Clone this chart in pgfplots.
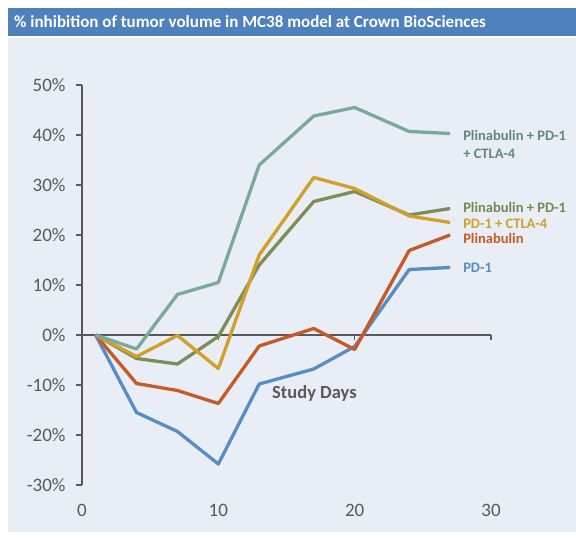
\documentclass[border=0pt]{standalone}
\usepackage{fontspec}
\setmainfont{Carlito}
\usepackage{pgfplots}
\pgfplotsset{compat=1.18}

\definecolor{panel}{RGB}{233,238,246}
\definecolor{titlebar}{RGB}{79,129,189}
\definecolor{axisgray}{RGB}{89,89,89}
\definecolor{cteal}{RGB}{120,170,155}
\definecolor{colive}{RGB}{126,141,88}
\definecolor{cgold}{RGB}{208,160,40}
\definecolor{corange}{RGB}{197,90,38}
\definecolor{cblue}{RGB}{87,141,196}

\begin{document}
\begin{tikzpicture}[x=1pt,y=1pt]
% page, panel and title bar
\fill[white] (0,0) rectangle (576,541);
\fill[panel] (8,9) rectangle (576,503);
\fill[titlebar] (8,505) rectangle (576,533);
\node[anchor=west, inner sep=0, text=white, font=\fontsize{17}{20}\selectfont\bfseries]
  at (14,519) {\% inhibition of tumor volume in MC38 model at Crown BioSciences};

\begin{axis}[
  at={(82pt,56pt)}, anchor=south west,
  scale only axis, width=409pt, height=400pt,
  xmin=0, xmax=30, ymin=-30, ymax=50,
  axis y line*=left, axis x line*=bottom,
  x axis line style={draw=none},
  y axis line style={axisgray, line width=1.3pt},
  xtick={0,10,20,30}, ytick={-30,-20,...,50},
  xtick style={draw=none},
  ytick style={axisgray, line width=1.3pt},
  tick align=outside, major tick length=6pt,
  yticklabel={\pgfmathprintnumber{\tick}\%},
  /pgf/number format/assume math mode=true,
  tick label style={font=\fontsize{19}{22}\selectfont, text=axisgray},
  xticklabel style={anchor=center, yshift=-19pt},
  yticklabel style={xshift=-7pt},
  clip=false,
  every axis plot/.append style={line width=3.3pt, line join=round},
]
% zero line with small ticks
\draw[axisgray, line width=1.3pt] (axis cs:0,0) -- (axis cs:30,0);
\pgfplotsinvokeforeach{10,20,30}{\draw[axisgray, line width=1.3pt] (axis cs:#1,0) -- ([yshift=-5pt]axis cs:#1,0);}

% PD-1
\addplot[cblue] coordinates {(1,0) (4,-15.5) (7,-19.3) (10,-25.8) (13,-9.8) (17,-6.8) (20,-2.3) (24,13.1) (27,13.5)};
% Plinabulin
\addplot[corange] coordinates {(1,0) (4,-9.7) (7,-11.1) (10,-13.7) (13,-2.2) (17,1.3) (20,-2.9) (24,16.9) (27,20.0)};
% Plinabulin + PD-1
\addplot[colive] coordinates {(1,0) (4,-4.7) (7,-5.8) (10,-0.3) (13,14.0) (17,26.7) (20,28.7) (24,24.0) (27,25.3)};
% PD-1 + CTLA-4
\addplot[cgold] coordinates {(1,0) (4,-4.3) (7,-0.1) (10,-6.7) (13,16.0) (17,31.5) (20,29.3) (24,23.8) (27,22.5)};
% Plinabulin + PD-1 + CTLA-4
\addplot[cteal] coordinates {(1,0) (4,-2.8) (7,8.1) (10,10.5) (13,34.0) (17,43.8) (20,45.5) (24,40.7) (27,40.3)};

\begin{scope}[every node/.style={anchor=west, inner sep=0, font=\fontsize{14.5}{18}\selectfont\bfseries, align=left}]
\node[text=cteal!80!black] at (axis cs:27.95,38.2) {Plinabulin + PD-1\\+ CTLA-4};
\node[text=colive!95!black] at (axis cs:27.95,25.6) {Plinabulin + PD-1};
\node[text=cgold] at (axis cs:27.95,22.3) {PD-1 + CTLA-4};
\node[text=corange] at (axis cs:27.95,19.3) {Plinabulin};
\node[text=cblue] at (axis cs:27.95,13.4) {PD-1};
\end{scope}
\node[anchor=center, inner sep=0, text=axisgray, font=\fontsize{18.5}{22}\selectfont\bfseries]
  at (axis cs:17.05,-11.6) {Study Days};
\end{axis}
\end{tikzpicture}
\end{document}
